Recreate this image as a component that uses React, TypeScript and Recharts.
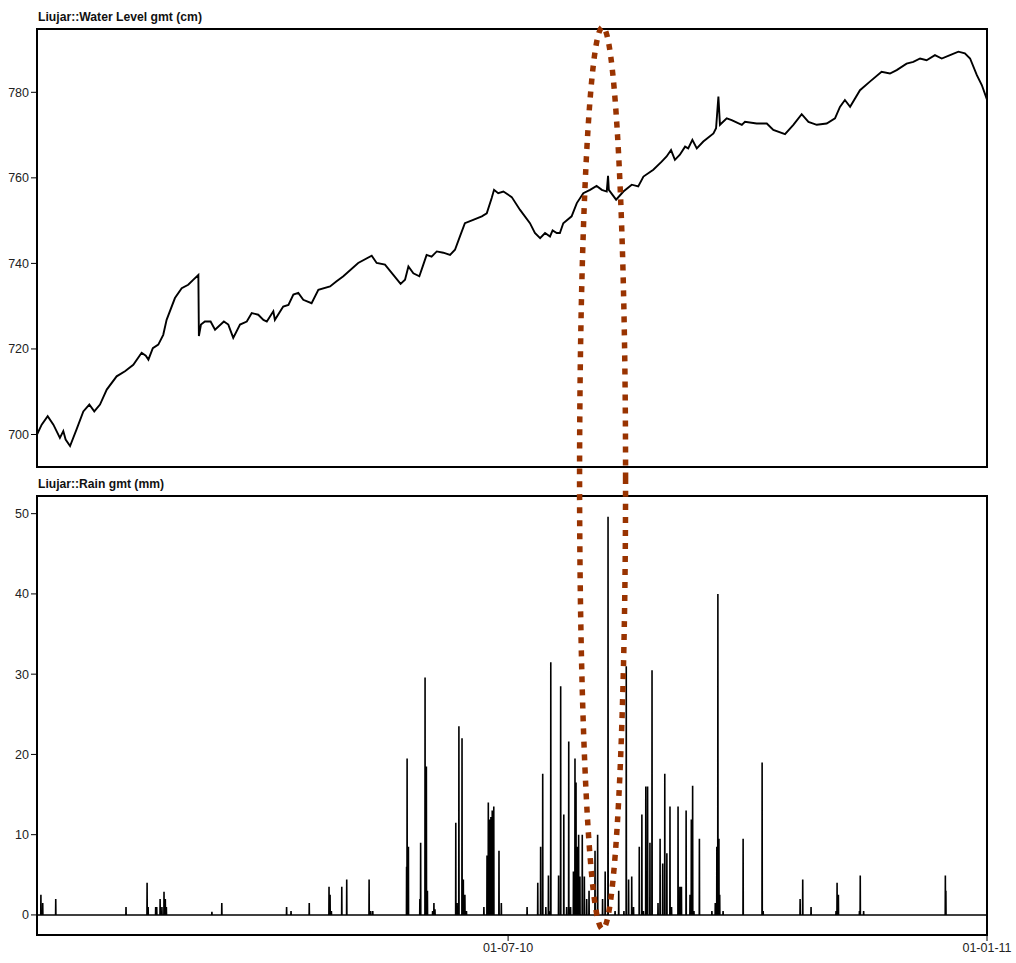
// Liujar — nivel de agua y lluvia 2010, dos paneles con eje de fechas común
import { LineChart, Line, XAxis, YAxis, ReferenceArea } from 'recharts'

// ─── Datos: nivel de agua (cm) — día desde 01-01-10 ─────────────────────────

const levelDays = [
  0, 1.8, 4.1, 6.3, 8.8, 10.1, 11, 12.7, 15.2, 17.8, 20.1, 22, 24.2, 26.8, 30.6, 33.8, 37, 40.2, 41.8, 42.8,
  44.5, 46.6, 48.5, 49.8, 53, 55.6, 58.1, 60.1, 62, 62.2, 63, 64.5, 66.7, 68.4, 71.8, 73.5, 75.4, 78, 80.6,
  82.5, 85, 87, 88.3, 90.8, 91.4, 94.6, 96.6, 98.5, 100.4, 102.3, 105.5, 108.1, 112.6, 115.1, 117.7, 123.4,
  128.6, 130.5, 133.7, 136.9, 139.7, 141.4, 142.7, 144.6, 146.9, 148.2, 149.7, 151.6, 153.6, 156.1, 158.7,
  160.6, 162.5, 164.4, 167.6, 170.9, 172.8, 174.7, 175.6, 177.2, 179.2, 182.4, 185.6, 189.4, 191.3, 193.3,
  195.2, 197.1, 198.1, 199.7, 200.9, 202.2, 205.4, 207.4, 209.9, 212.5, 215, 217, 218.9, 219.4, 219.7,
  222.5, 225.3, 228.5, 231, 233, 236.8, 240, 241.9, 243.6, 245.1, 247, 249, 250.2, 251.8, 253.5, 256,
  259.9, 260.9, 261.8, 262.4, 265, 266.9, 270.8, 272, 276.5, 280.4, 282.9, 287.4, 290.6, 293.8, 296.4,
  299.6, 303.4, 306.6, 308.5, 310.4, 312.4, 316.2, 320, 324.5, 327.7, 330.3, 334.1, 336.7, 339.3, 341.8,
  345, 347.6, 350.8, 354, 356.5, 358.5, 361.1, 363, 365,
]

const levelCm = [
  700, 702.3, 704.3, 702.3, 699.2, 700.8, 698.8, 697.3, 701.2, 705.4, 707, 705.4, 707, 710.5, 713.6, 714.8,
  716.3, 719.1, 718.4, 717.5, 720.2, 721, 723.3, 726.8, 731.9, 734.2, 735, 736.2, 737.3, 723, 725.7, 726.4,
  726.4, 724.5, 726.4, 725.7, 722.6, 725.7, 726.4, 728.4, 728, 726.8, 726.4, 728.8, 726.8, 729.9, 730.3,
  732.7, 733.1, 731.5, 730.7, 733.8, 734.6, 735.8, 737, 740.1, 741.8, 740.1, 739.7, 737.3, 735.2, 736.2,
  739.3, 737.7, 737, 739.3, 742, 741.6, 742.8, 742.5, 742, 743.2, 746.3, 749.4, 750.2, 751, 751.7, 755.3,
  757.2, 756.4, 756.8, 755.5, 752.5, 749.4, 747.1, 745.9, 747.1, 746.3, 747.7, 747.1, 747.1, 749.4, 751,
  754.1, 756.4, 757.2, 758.1, 757.2, 756.8, 760.5, 757.2, 754.9, 756.8, 758.4, 758, 760.3, 761.9, 763.8,
  765, 766.5, 764.2, 765.4, 767.3, 766.9, 768.9, 766.9, 768.5, 770.4, 771.6, 779, 772.4, 773.9, 773.5,
  772.4, 773.1, 772.7, 772.7, 771.2, 770.2, 772.4, 774.9, 773.1, 772.4, 772.7, 773.9, 776.6, 778.2, 776.6,
  780.5, 782.5, 784.8, 784.4, 785.2, 786.7, 787.1, 787.9, 787.5, 788.7, 787.9, 788.7, 789.5, 789.1, 787.9,
  784, 781.7, 778.3,
]

// ─── Datos: lluvia (mm) — eventos por día desde 01-01-10 ─────────────────────

const rainDays = [
  1.5, 2.2, 7.2, 34.2, 42.3, 42.7, 45.6, 46, 47.3, 48, 48.8, 49.3, 49.7, 67.2, 71, 95.9, 97.6, 104.6, 112.2,
  112.6, 113.1, 117.1, 119, 127.6, 128.2, 129, 142, 142.2, 142.7, 147.1, 147.4, 149.1, 149.6, 150, 152,
  152.5, 152.9, 160.9, 161.4, 162.1, 163.3, 163.8, 164.4, 165, 171.7, 172.9, 173.4, 173.9, 174.4, 174.9,
  175.5, 177.5, 178.4, 188.3, 192.4, 193.5, 194.3, 195.5, 196.5, 197.2, 197.4, 200.4, 201.2, 202.4, 203.5,
  204.3, 205, 206.1, 206.7, 207.1, 207.6, 208.1, 208.6, 209.5, 210.3, 211.2, 212.1, 214.4, 215.4, 217.3,
  218.3, 219.4, 222.1, 223.5, 225.5, 226.4, 227.3, 228.5, 229.2, 231.4, 232.4, 233, 233.9, 234.6, 235.5,
  236.3, 238.6, 239.4, 240.4, 241.2, 242, 243.2, 243.8, 246.3, 247, 247.6, 249.4, 250.9, 251.4, 251.9,
  252.4, 254.5, 259.3, 260.6, 261.2, 261.6, 262, 262.3, 263.6, 271.3, 278.6, 279, 293.2, 294.2, 297.4,
  307, 307.4, 307.9, 316, 316.3, 317.6, 349, 349.2,
]

const rainMm = [
  2.5, 1.5, 2, 1, 4, 1, 1, 1, 2, 1, 2.9, 2, 1, 0.4, 1.5, 1, 0.5, 1.5, 3.5,
  2.5, 0.5, 3.5, 4.4, 4.4, 0.5, 0.5, 6, 19.5, 8.5, 2, 9, 29.6, 18.5, 3, 0.5,
  1.5, 0.7, 11.5, 1.5, 23.5, 22, 4.4, 2.5, 0.5, 1, 7.4, 14, 11.9, 12.2, 13,
  13.5, 8, 1.5, 1, 4, 8.5, 17.6, 1, 4.9, 0.5, 31.5, 4.9, 28.5, 12.5, 1,
  21.6, 1, 5.4, 19.5, 16.5, 8.5, 10, 4.8, 10, 4.8, 2, 3, 8, 10, 2,
  5.4, 49.6, 0.5, 3, 0.5, 31, 4.4, 4.8, 1, 8.5, 12.5, 0.5, 16, 16, 9,
  30.5, 1.5, 9.5, 6.4, 17.6, 7.7, 13.5, 1, 13.5, 3.5, 3.5, 13, 2.5, 11.9, 16.1,
  0.5, 9.5, 0.5, 1.5, 8.5, 40, 9.5, 2.5, 0.5, 9.5, 19, 0.5, 2, 4.4, 1,
  0.5, 4, 2.5, 0.5, 4.9, 0.5, 4.9, 3,
]

const levelTicks = [700, 720, 740, 760, 780]
const rainTicks = [0, 10, 20, 30, 40, 50]
const dateTicks = [181, 365]               // 01-07-10 y 01-01-11
const dateLabels = ['01-07-10', '01-01-11']

// Ventana marcada con la elipse (días)
const HIGHLIGHT_DAY = 217.3

// ─── Geometría ───────────────────────────────────────────────────────────────

const W = 1016
const H = 963
const PLOT_LEFT = 37
const PLOT_RIGHT = 987
const DAYS = 365
const LEVEL_DOMAIN: [number, number] = [692.4, 794.8]
const RAIN_DOMAIN: [number, number] = [-2.5, 52.2]

const xOf = (day: number) => PLOT_LEFT + (day / DAYS) * (PLOT_RIGHT - PLOT_LEFT)

const tickStyle = { fill: '#222', fontSize: 12.5, fontFamily: "'Liberation Sans', Arial, sans-serif" }
const titleFont = "'Liberation Sans Narrow', 'Liberation Sans', Arial, sans-serif"

const levelData = levelDays.map((d, i) => ({ day: d, level: levelCm[i] }))

// Serie de lluvia: cada evento es un pico fino sobre la línea de cero
const SPIKE = 0.06
const rainData: { day: number; mm: number }[] = [{ day: 0, mm: 0 }]
rainDays.forEach((d, i) => {
  rainData.push({ day: d - SPIKE, mm: 0 }, { day: d, mm: rainMm[i] }, { day: d + SPIKE, mm: 0 })
})
rainData.push({ day: DAYS, mm: 0 })

export default function App() {
  return (
    <div style={{ position: 'absolute', left: 0, top: 0, width: W, height: H, background: '#fff' }}>
      {/* Panel superior — nivel de agua */}
      <div style={{ position: 'absolute', left: 0, top: 0 }}>
        <LineChart width={W} height={470} data={levelData} margin={{ top: 29, right: W - PLOT_RIGHT, bottom: 3, left: 0 }}>
          <XAxis type="number" dataKey="day" domain={[0, DAYS]} hide allowDataOverflow />
          <YAxis
            type="number"
            domain={LEVEL_DOMAIN}
            ticks={levelTicks}
            width={PLOT_LEFT}
            allowDataOverflow
            axisLine={false}
            tickSize={6}
            tickMargin={2}
            tickLine={{ stroke: '#000' }}
            tick={tickStyle}
          />
          <ReferenceArea x1={0} x2={DAYS} y1={LEVEL_DOMAIN[0]} y2={LEVEL_DOMAIN[1]} fill="none" stroke="#000" strokeWidth={2} ifOverflow="visible" />
          <Line type="linear" dataKey="level" stroke="#000" strokeWidth={1.9} dot={false} isAnimationActive={false} />
        </LineChart>
      </div>

      {/* Panel inferior — lluvia */}
      <div style={{ position: 'absolute', left: 0, top: 470 }}>
        <LineChart width={W} height={493} data={rainData} margin={{ top: 26, right: W - PLOT_RIGHT, bottom: 0, left: 0 }}>
          <XAxis
            type="number"
            dataKey="day"
            domain={[0, DAYS]}
            ticks={dateTicks}
            tickFormatter={(v: number) => dateLabels[dateTicks.indexOf(v)] ?? ''}
            height={28}
            allowDataOverflow
            axisLine={false}
            tickSize={6}
            tickMargin={2}
            tickLine={{ stroke: '#000' }}
            tick={tickStyle}
          />
          <YAxis
            type="number"
            domain={RAIN_DOMAIN}
            ticks={rainTicks}
            width={PLOT_LEFT}
            allowDataOverflow
            axisLine={false}
            tickSize={6}
            tickMargin={2}
            tickLine={{ stroke: '#000' }}
            tick={tickStyle}
          />
          <ReferenceArea x1={0} x2={DAYS} y1={RAIN_DOMAIN[0]} y2={RAIN_DOMAIN[1]} fill="none" stroke="#000" strokeWidth={2} ifOverflow="visible" />
          <Line type="linear" dataKey="mm" stroke="#000" strokeWidth={1.6} dot={false} isAnimationActive={false} />
        </LineChart>
      </div>

      {/* Títulos y elipse de anotación */}
      <svg width={W} height={H} style={{ position: 'absolute', left: 0, top: 0, pointerEvents: 'none' }}>
        <text x={38} y={20.5} fontSize={13} fontWeight="bold" fontFamily={titleFont} fill="#111" textLength={164} lengthAdjust="spacingAndGlyphs">
          Liujar::Water Level gmt (cm)
        </text>
        <text x={38} y={488} fontSize={13} fontWeight="bold" fontFamily={titleFont} fill="#111" textLength={126} lengthAdjust="spacingAndGlyphs">
          Liujar::Rain gmt (mm)
        </text>
        <ellipse
          cx={xOf(HIGHLIGHT_DAY)}
          cy={478}
          rx={23}
          ry={451}
          fill="none"
          stroke="#993300"
          strokeWidth={5.5}
          strokeDasharray="6 7"
        />
      </svg>
    </div>
  )
}
